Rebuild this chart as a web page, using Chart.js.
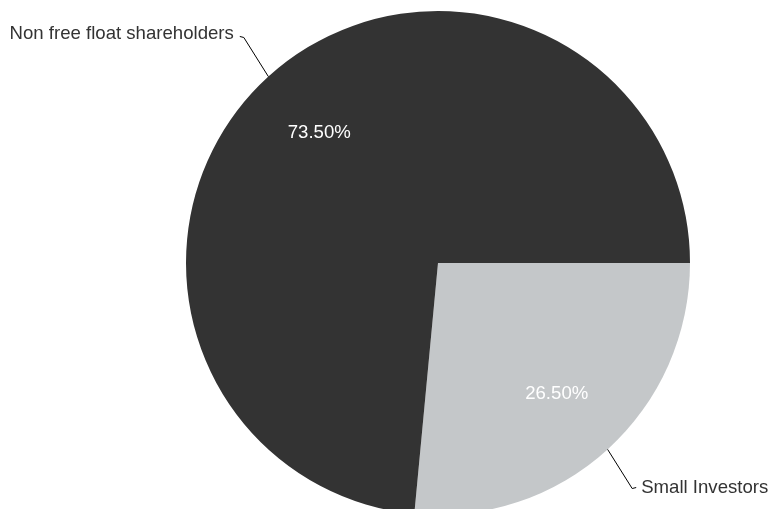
<!DOCTYPE html>
<html>
<head>
<meta charset="utf-8">
<script src="https://cdn.jsdelivr.net/npm/chart.js@4"></script>
<style>
  html, body { margin: 0; padding: 0; background: #fff; overflow: hidden; }
  #wrap { width: 772px; height: 520px; position: relative; }
</style>
</head>
<body>
<div id="wrap"><canvas id="myChart"></canvas></div>
<script>

// slices, clockwise from 3 o'clock
const labels = ['Small Investors', 'Non free float shareholders'];
const shares = [26.5, 73.5];
const sliceColors = ['#c4c7c9', '#333333'];

const FONT = '"Liberation Sans", Arial, Helvetica, sans-serif';

// percent labels inside + callout labels with leader lines
const calloutPlugin = {
    id: 'callouts',
    afterDatasetsDraw(chart) {
        const ctx = chart.ctx;
        const meta = chart.getDatasetMeta(0);
        ctx.save();
        meta.data.forEach((arc, i) => {
            const mid = (arc.startAngle + arc.endAngle) / 2;
            const r = arc.outerRadius;
            const cx = arc.x, cy = arc.y;
            const cos = Math.cos(mid), sin = Math.sin(mid);

            // value inside
            ctx.font = '18.6px ' + FONT;
            ctx.fillStyle = '#ffffff';
            ctx.textAlign = 'center';
            ctx.textBaseline = 'middle';
            ctx.fillText(shares[i].toFixed(2) + '%', cx + cos * r * 0.7, cy + sin * r * 0.7);

            // leader line
            const x0 = cx + cos * r, y0 = cy + sin * r;
            const ex = cx + cos * r * 1.145, ey = cy + sin * r * 1.21;
            const right = cos >= 0;
            const hx = ex + (right ? 4 : -4);
            ctx.strokeStyle = '#000000';
            ctx.lineWidth = 1;
            ctx.beginPath();
            ctx.moveTo(x0, y0);
            ctx.lineTo(ex, ey);
            ctx.lineTo(hx, ey - 1);
            ctx.stroke();

            ctx.fillStyle = '#333333';
            ctx.textAlign = right ? 'left' : 'right';
            ctx.textBaseline = 'alphabetic';
            ctx.fillText(labels[i], ex + (right ? 9 : -10), ey + (right ? 4.5 : 1.5));
        });
        ctx.restore();
    }
};

const data = {
    labels: labels,
    datasets: [{
        data: shares,
        backgroundColor: sliceColors,
        borderWidth: 0,
    }],
};

const config = {
    type: 'pie',
    data: data,
    options: {
        responsive: true,
        maintainAspectRatio: false,
        animation: false,
        rotation: 90,
        layout: {
            padding: { top: 11, bottom: 5, left: 186, right: 82 }
        },
        plugins: {
            legend: { display: false },
            tooltip: { enabled: false },
            title: { display: false },
        }
    },
    plugins: [calloutPlugin],
};

const ctx = document.getElementById('myChart');
let myChart = new Chart(ctx, config);

</script>
</body>
</html>
